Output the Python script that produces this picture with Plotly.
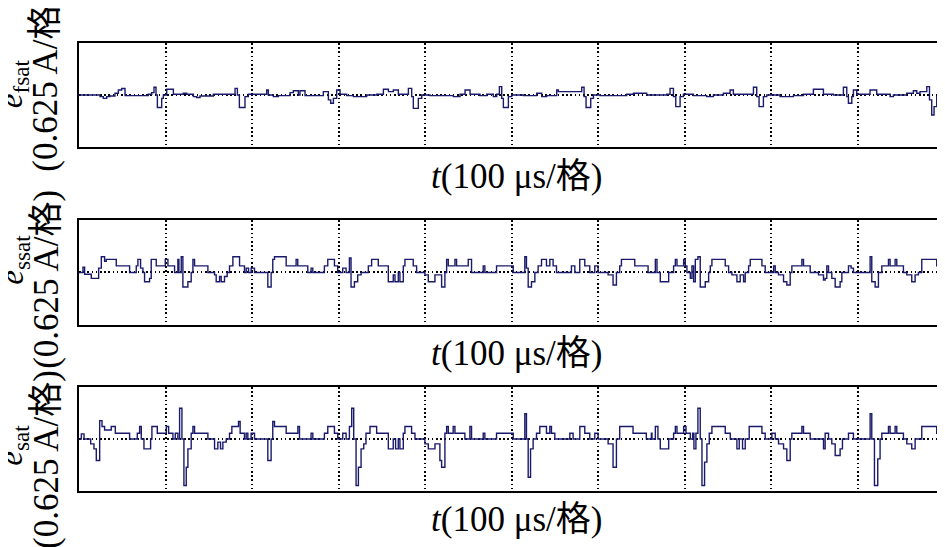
import plotly.graph_objects as go

# ---- data (time in μs, value in divisions) ----
t_fsat = [0, 24.3, 28.1, 32, 35.8, 41.6, 45.5, 49.3, 53.2, 80.2, 84, 86.7, 89, 90.6, 95.6, 97.5,
          101.4, 109.1, 120.6, 124.5, 132.2, 136, 139.9, 155.3, 180.4, 183.1, 185.4, 191.9, 195.8,
          217, 218.9, 224.7, 230.5, 244, 247.8, 253.6, 255.5, 261.3, 282.5, 288.3, 291, 294.1,
          297.9, 301.8, 309.5, 317.2, 332.6, 344.2, 351.9, 357.7, 363.4, 369.2, 380.8, 384.6,
          386.5, 392.3, 396.2, 405.8, 432.8, 440.5, 446.3, 452.1, 463.6, 471.3, 479, 482.9, 486,
          488.7, 490.6, 496.4, 500.2, 513.7, 529.1, 534.9, 540.7, 552.3, 554.2, 581.2, 583.9,
          586.2, 591.6, 594.7, 602.4, 633.2, 640.9, 656.3, 679.4, 683.3, 687.2, 689.9, 694.9,
          698.7, 710.3, 725.7, 733.4, 745, 752.7, 756.5, 779.7, 783.5, 786.2, 791.2, 795.1,
          810.5, 825.9, 837.5, 849, 860.6, 872.1, 883.7, 887.6, 889.5, 893.4, 895.3, 899.1,
          914.5, 922.2, 937.7, 941.5, 956.9, 964.6, 968.5, 972.3, 980.1, 983.2, 985.8, 988.5,
          991.6, 995.5, 1000]
v_fsat = [0, -0.13, -0.26, -0.13, -0.08, 0.13, 0.38, 0.5, -0.05, 0.05, 0.18, 0.59, 0, -0.97, -0.26, 0,
          0.44, 0.05, 0.13, 0.05, -0.13, -0.2, -0.08, 0.05, 0.51, 0, -0.97, -0.13, 0.05,
          0.38, 0, -0.13, -0.05, 0.18, 0.33, 0, 0.33, -0.05, 0.26, -0.38, -0.64, -0.26,
          0.38, 0.05, -0.05, -0.13, 0, 0.05, 0.44, 0.26, 0.38, 0.05, 0.51, -0.13,
          -1.03, -0.26, 0, -0.05, -0.13, 0.05, 0.38, 0.05, -0.05, 0.05, -0.13, 0.05, 0.64,
          -0.26, -0.97, -0.13, 0, -0.05, 0.13, -0.13, -0.05, 0.38, 0.26, 0.59, -0.13,
          -0.97, -0.26, 0, -0.05, 0.05, 0.13, 0, 0.05, 0.51, -0.13, -0.9, -0.13,
          0.05, -0.05, -0.13, 0, 0.13, 0.38, 0.05, 0.59, -0.13, -0.9, -0.13, 0,
          -0.13, -0.05, 0.05, 0.44, 0.05, 0, 0.59, -0.13, -0.64, -0.13, 0.38, 0.05,
          0.38, 0.05, -0.13, 0, 0.13, 0.33, 0.13, 0.26, 0.64, -0.38, -1.54, -0.9,
          -0.13, 0, 0]

t_ssat = [0, 4.6, 6.5, 14.2, 22.7, 25.8, 29.6, 31.5, 43.1, 58.5, 66.2, 68.1, 71.2, 73.9, 75.8, 81.6,
          83.5, 89.3, 99.7, 102.8, 110.5, 114.3, 115.5, 118.2, 120.1, 125.9, 129.7, 131.7, 133.6,
          149, 156.7, 158.6, 162.5, 164.4, 168.2, 171.3, 174, 177.9, 185.6, 191.3, 193.3, 196,
          199, 202.9, 218.3, 222.1, 224, 226, 239.5, 251, 252.9, 264.5, 268.3, 270.3, 283.7,
          287.6, 295.3, 299.1, 304.9, 308.8, 312.6, 314.5, 318.4, 322.2, 326.1, 329.9,
          334.5, 338.3, 346, 357.6, 363.3, 365.3, 369.1, 371, 374.9, 376.8, 386.4, 390.3,
          399.9, 403.8, 411.5, 419.2, 423, 425, 426.9, 434.6, 436.5, 450, 453.8, 467.3, 469.2,
          482.7, 502, 515.4, 517.3, 519.3, 523.1, 527, 530.8, 534.7, 540.4, 544.3, 548.1, 552,
          569.3, 573.2, 578.9, 584.7, 590.5, 596.3, 600.1, 611.7, 617.4, 621.3, 625.1, 627.1,
          642.5, 657.9, 661.7, 666.3, 668.2, 672, 681.7, 687.4, 689.4, 691.3, 699, 700.9,
          702.8, 706.7, 708.6, 710.5, 712.5, 715.5, 718.2, 724, 727.9, 729.8, 731.7, 747.1,
          751, 754.8, 760.6, 764.4, 768.3, 770.2, 774.1, 776, 789.5, 793.3, 803, 804.9, 808.7,
          814.5, 818.3, 822.2, 824.1, 835.7, 837.6, 845.3, 854.9, 860.7, 862.6, 864.5, 866.5,
          870.3, 874.2, 879.9, 881.9, 889.6, 892.6, 895.3, 914.6, 916.5, 920.4, 924.2, 928.1,
          935.8, 937.7, 943.5, 945.4, 953.1, 957, 962.7, 966.6, 970.4, 974.3, 991.6, 995.5, 1000]
v_ssat = [0, 0.4, -0.13, -0.45, 0.33, 1.2, 0.85, 1.0, 0.5, 0, 0.5, 1.0, 0.33, 0, -0.7, -0.45,
          1.0, 0.5, 1.0, 0.5, 0, 1.0, 0, 1.2, -1.1, -0.7, 0, 1.0, 0.5,
          0, -0.18, -0.7, -0.3, -0.7, -0.3, 0, 0.5, 1.2, 0.5, 0, 0.33, 0,
          0.33, 0, -1.1, 0, 1.0, 1.2, 0.5, 1.0, 0.5, 0, 0.33, 0, 0.5,
          1.0, 0.5, 0, 0.33, 0, 1.1, -1.1, -0.7, -0.18, 0, 0,
          0.5, 1.0, 0.5, -0.7, -0.18, -0.7, 0, -0.7, 0.5, 1.0, 0.5, 0,
          -0.18, -0.7, -0.18, -1.1, 0, 1.0, 0.5, 1.0, 0.5, 1.0, 0, 0.5, 0,
          0.5, 0, 1.2, 0.33, -1.1, -0.7, 0, 0.5, 1.0, 0.5, 1.0, 0.5, 0,
          0.5, 0, 1.0, 0.5, 0, 0.5, 0, -0.18, -0.95, 0, 0.5, 1.0,
          0.5, 0, 0, 1.0, 0, -0.7, 0, 0.5, 1.0, 0.5, 1.0, 0.5,
          0, -0.45, 0.5, -0.7, 1.0, 1.2, -1.1, -0.7, 0, 0.5, 1.0, 0.5,
          0, -0.18, -0.7, -0.18, -0.7, 0, 0.5, 1.0, 0.5, 0, 0.5, 0, -0.18,
          -0.7, -0.95, 0, 0.5, 1.0, 0.5, 0, -0.18, -0.57, -0.45, 0.5, 0,
          -0.45, -1.1, -0.7, 0, 0.5, 0.33, 0, 1.2, -0.7, -1.1, 0, 0.5,
          1.0, 0.5, 1.0, 0.5, 0, -0.18, -0.7, -0.18, 0, 1.0, 0.5, 0, 0]

t_sat = [0, 2.7, 5.8, 13.5, 17.3, 20, 23.9, 26.6, 29.6, 37.3, 42, 58.5, 67.4, 70.1, 72, 75.1, 82.8,
         84.3, 90.5, 100.9, 103.6, 108.6, 111.3, 114.3, 116.3, 119, 121.3, 124, 125.9, 129.7,
         131.7, 133.6, 149, 156.7, 160.5, 163.6, 166.3, 170.2, 174, 176.7, 184.4, 186.3, 191.3,
         193.3, 195.2, 199, 202.9, 218.3, 222.1, 224, 226, 239.5, 253, 254.9, 268.3, 270.3,
         283.7, 287.6, 295.3, 299.1, 304.9, 308.8, 312.6, 315.3, 317.6, 320.3, 323, 326.1,
         329.2, 331.8, 336.4, 344.1, 357.6, 363.3, 366, 369.1, 371, 374.9, 376.8, 384.5, 388.4,
         399.9, 403.8, 411.5, 417.2, 419.2, 423, 425, 426.9, 432.6, 434.6, 446.1, 451.9, 453.8,
         467.3, 469.2, 482.7, 502, 515.4, 517.3, 519.3, 522, 525, 528.9, 532.7, 540.4, 544.3,
         546.2, 550.1, 567.4, 571.2, 579, 584.7, 590.5, 596.3, 600.1, 611.7, 617.4, 621.3,
         625.1, 640.5, 655.9, 661.7, 662.4, 666.3, 669.3, 672, 681.7, 687.4, 689.4, 691.3, 699,
         701.7, 706.7, 709.4, 710.9, 713.2, 715.5, 718.2, 720.2, 723.2, 725.9, 728.6, 731.7,
         747.1, 752.9, 760.6, 763.3, 767.1, 770.2, 774.8, 789.5, 793.3, 801, 804.9, 808.7,
         814.5, 818.3, 822.2, 824.1, 835.7, 837.6, 845.3, 860.7, 862.6, 866.5, 870.3, 874.2,
         879.9, 882.6, 889.6, 895.3, 914.6, 916.5, 919.6, 923.4, 926.1, 928.1, 935.8, 937.7,
         943.5, 945.4, 953.1, 957, 962.7, 966.6, 974.3, 991.6, 995.5, 1000]
v_sat = [0, 0.4, 0, -0.37, -0.76, -1.65, 1.42, 0.96, 0.7, 0.96, 0.45, 0, 0.45, 0.96, 0, -0.76, 0,
         0.96, 0.45, 0.96, 0.45, 0, 0.45, 0, 2.37, 0, -3.58, -2.17, -0.76, 0.45,
         0.96, 0.45, 0, -0.76, -0.24, -0.76, -0.24, 0, 0.45, 0.96, 1.35, 0.45, 0,
         0.45, 0, 0.45, 0, -1.65, 0, 1.35, 0.96, 0.45, 0.96, 0, 0.45, 0,
         0.45, 0.96, 0.45, 0, 0.45, 0, 0.96, 2.37, 0, -3.58, -2.17, -0.76,
         -0.37, 0.45, 0.96, 0.45, -0.76, 0, -0.76, 0, -0.76, 0.45, 0.96, 0.45, 0,
         -0.37, -0.76, -0.37, -1.65, -2.17, 0.45, 0.96, 0.45, 0.96, 0.45, 0, 0.96, 0,
         0.45, 0, 0.45, 0, 1.94, 0, -2.94, -0.76, 0, 0.45, 0.96, 0.45, 0.96,
         0.45, 0, 0.45, 0, 0.96, 0.45, 0, 0.45, 0, -0.37, -2.17, 0,
         0.96, 0.45, 0, 0.45, 0, 0.96, 0, -0.76, 0, 0.45, 0.96, 0.45, 0.96,
         0.45, 0, 0.45, -0.76, 0.45, 2.37, 0, -3.58, -1.78, -0.37, 0.45, 0.96,
         0.45, 0, -0.76, 0, -0.76, 0, 0.96, 0.45, 0, 0.45, 0, -0.37,
         -0.76, -1.65, 0, 0.45, 0.96, 0.45, 0, -0.76, 0.45, 0, -0.37, -1.27,
         -0.76, 0, 0.45, 0, 1.94, 0, -3.58, -1.53, 0, 0.45, 0.96, 0.45,
         0.96, 0.45, 0, -0.37, -0.76, 0, 0.96, 0.45, 0, 0]

grid_t = [100, 200, 300, 400, 500, 600, 700, 800, 900]
x_title = "<i>t</i>(100 μs/格)"
y_unit = "(0.625 A/格)"
y_names = ["<i>e</i><sub>fsat</sub>", "<i>e</i><sub>ssat</sub>", "<i>e</i><sub>sat</sub>"]

series = [(t_fsat, v_fsat), (t_ssat, v_ssat), (t_sat, v_sat)]
line_color = "#1a1a6c"
FONT = "'Liberation Serif', 'Times New Roman', 'Noto Sans CJK SC', serif"

fig = go.Figure()
domains = [[0.768, 1.0], [0.3705, 0.605], [0.0, 0.232]]
for i, (tt, vv) in enumerate(series):
    n = "" if i == 0 else str(i + 1)
    fig.add_trace(go.Scatter(x=tt, y=vv, mode="lines", line=dict(color=line_color, width=1.4, shape="hv"),
                             xaxis="x" + n, yaxis="y" + n, showlegend=False, hoverinfo="skip"))
    axstyle = dict(showline=True, mirror=True, linecolor="black", linewidth=1.5, ticks="",
                   showticklabels=False, zeroline=False, showgrid=True, gridcolor="black",
                   gridwidth=1.6, griddash="1.6px,2.6px")
    fig.update_layout(**{
        "xaxis" + n: dict(range=[0, 1000], tickvals=grid_t, anchor="y" + n, **axstyle),
        "yaxis" + n: dict(range=[-4, 4], tickvals=[0], domain=domains[i], anchor="x" + n, **axstyle),
    })

ann = []
xt_y = [0.701, 0.306, -0.0625]
unit_y = [0.913, 0.473, 0.071]
name_y = [0.9096, 0.5156, 0.1027]
for i in range(3):
    ann.append(dict(text=x_title, x=0.506, y=xt_y[i], xref="paper", yref="paper", showarrow=False,
                    xanchor="center", yanchor="middle", font=dict(size=35, color="black", family=FONT)))
    ann.append(dict(text=y_unit, x=-0.0385, y=unit_y[i], xref="paper", yref="paper", showarrow=False,
                    textangle=-90, xanchor="center", yanchor="middle",
                    font=dict(size=35, color="black", family=FONT)))
    ann.append(dict(text=y_names[i], x=-0.0755, y=name_y[i], xref="paper", yref="paper", showarrow=False,
                    textangle=-90, xanchor="center", yanchor="middle",
                    font=dict(size=33, color="black", family=FONT)))

# the page body has an 8px margin, so the figure is 8px smaller on each side
fig.update_layout(width=937, height=539, margin=dict(l=71, r=1, t=35, b=56, autoexpand=False),
                  paper_bgcolor="white", plot_bgcolor="white", annotations=ann)
fig.write_html("out.html")
